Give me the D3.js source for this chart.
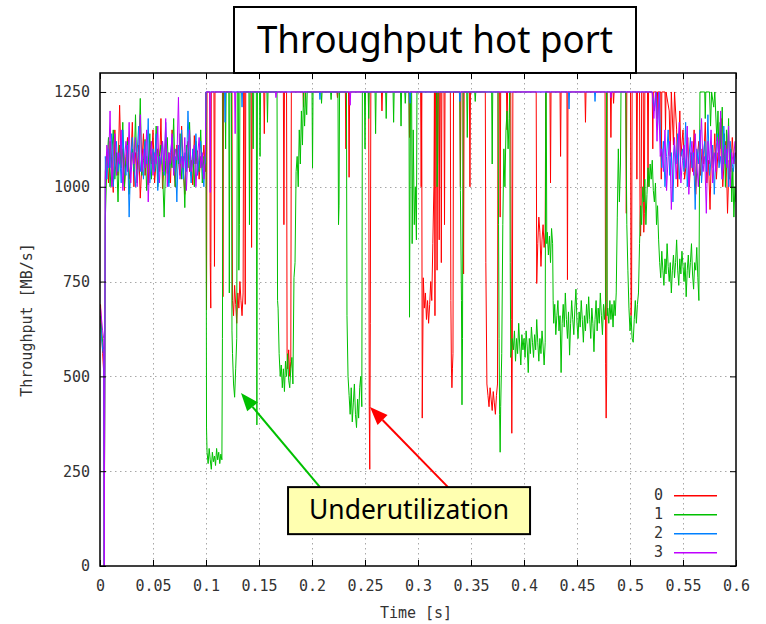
<!DOCTYPE html>
<html><head><meta charset="utf-8">
<script src="https://cdn.jsdelivr.net/npm/d3@7"></script>
<style>body{margin:0;background:#fff}svg{display:block}</style>
</head><body>
<svg id="chart" width="766" height="624"></svg>
<script>
// ---------- data ----------
const xTickValues = [0,0.05,0.1,0.15,0.2,0.25,0.3,0.35,0.4,0.45,0.5,0.55,0.6];
const xTickLabels = ["0","0.05","0.1","0.15","0.2","0.25","0.3","0.35","0.4","0.45","0.5","0.55","0.6"];
const yTickValues = [0,250,500,750,1000,1250];
const yTickLabels = ["0","250","500","750","1000","1250"];
const seriesNames = ["0","1","2","3"];
const seriesColors = ["#ff0000","#00c000","#0080ff","#c000ff"];
const titleText = "Throughput hot port";
const xLabel = "Time [s]";
const yLabel = "Throughput [MB/s]";
const noteText = "Underutilization";

// sampled segments: [start time, step, values]
function seq(t0, dt, vals){ return vals.map((v,i)=>[+(t0+i*dt).toFixed(5), v]); }

// start of run
const red0 = [[0.0005,690],[0.0015,620],[0.0025,560],[0.0035,510],[0.004,0]];
const green0 = [[0.0005,660],[0.0015,620],[0.0025,590],[0.0035,570],[0.004,0]];
const blue0 = [[0.0005,640],[0.0015,600],[0.0025,570],[0.0035,555],[0.004,0]];
const purple0 = [[0.0005,680],[0.0015,650],[0.0025,620],[0.0035,600],[0.004,0]];

// noisy phase A (t = 0.005 .. 0.0995, step 0.0015)
const redA = [1040,1090,1010,1120,1060,985,1150,1070,1030,1215,1050,1100,990,1080,1130,1020,1060,1170,1000,1090,1045,1110,970,1060,1140,1030,1080,1005,1120,1060,1150,1010,1070,1100,1040,1180,995,1060,1125,1035,1090,1010,1150,1060,1000,1110,1070,1030,1160,1050,980,1090,1120,1040,1070,1005,1135,1060,1095,1020,1080,1050,1110,1040];
const greenA = [912,1060,1130,1000,1080,1150,1020,1090,960,1110,1050,1170,1000,1070,1120,980,1060,1100,1040,1190,1010,1080,1233,1030,1070,1125,990,1060,1140,1020,1090,1050,1160,1000,1080,1110,1040,920,1070,1130,1010,1080,1050,1180,1000,1100,1060,1140,1020,1080,945,1110,1050,1170,1030,1090,1000,1120,1060,1040,1150,1010,1080,1060];
const blueA = [1080,1020,1100,1050,1140,1000,1070,1120,1040,1090,1010,1150,1060,1030,1110,920,1070,1130,1050,1000,1090,1160,1040,1080,1020,1120,1060,1180,1010,1070,1100,1040,1140,990,1080,1060,1120,1030,1170,1050,1000,1090,1130,1040,1080,960,1110,1060,1150,1020,1090,1040,1200,1070,1010,1100,1060,1140,1030,1080,1120,1050,1000,1090];
const purpleA = [1020,1110,1050,1200,1000,1080,1140,1030,1090,1060,1150,990,1070,1120,1040,1170,1010,1090,1060,1130,1000,1080,1190,1040,1100,1050,1150,960,1070,1120,1030,1090,1060,1160,1010,1080,1120,1040,1180,1000,1090,1060,1140,1030,1100,1070,1236,1020,1080,1050,1130,990,1090,1150,1040,1070,1110,1000,1080,1130,1050,1090,1020,1100];

// hot phase, series 0
const redM = [[0.1,1250],[0.1005,675],[0.101,1250],[0.1035,1250],[0.104,800],[0.1045,680],[0.105,1250],[0.1075,1250],[0.108,790],[0.1085,1250],
[0.1155,1250],[0.116,710],[0.1165,1250],[0.1245,1250],[0.125,700],[0.126,660],[0.127,740],[0.128,690],[0.129,640],[0.13,720],[0.131,680],[0.132,750],[0.133,700],[0.134,660],[0.135,720],[0.1355,1250],
[0.1365,1250],[0.137,690],[0.1375,1250],[0.1425,1250],[0.143,840],[0.1435,1250],[0.1545,1250],[0.155,1140],[0.1555,1250],[0.173,1250],[0.1735,900],[0.174,1250],
[0.176,1250],[0.1765,560],[0.177,520],[0.178,570],[0.179,500],[0.18,540],[0.1805,1250],[0.1915,1250],[0.192,1210],[0.1925,1250],[0.2235,1250],[0.224,1235],[0.2245,1250],
[0.2315,1250],[0.232,1100],[0.2325,1250],[0.2345,1250],[0.235,1025],[0.2355,1250],[0.2535,1250],[0.254,420],[0.2545,255],[0.255,640],[0.2555,1250],
[0.2655,1250],[0.266,1200],[0.2665,1250],[0.2915,1250],[0.292,1130],[0.2925,1250],[0.3025,1250],[0.303,1000],[0.3035,1250],[0.304,390],[0.305,760],[0.306,680],[0.307,720],[0.308,650],[0.309,700],[0.31,640],[0.311,690],[0.312,750],[0.313,700],[0.314,850],[0.315,1000],[0.3155,1250],[0.316,660],[0.3165,1250],
[0.3175,1250],[0.318,780],[0.3185,1250],[0.3195,1250],[0.32,860],[0.3205,1250],[0.3215,1250],[0.322,800],[0.3225,1250],[0.3245,1250],[0.325,900],[0.3255,1250],
[0.3305,1250],[0.331,700],[0.3315,530],[0.332,470],[0.3325,520],[0.333,560],[0.3335,1250],[0.3395,1250],[0.34,1000],[0.3405,1250],[0.3425,1250],[0.343,770],[0.3435,1250],[0.3485,1250],[0.349,1000],[0.3495,1250],
[0.3635,1250],[0.364,800],[0.365,480],[0.366,450],[0.367,420],[0.368,470],[0.369,440],[0.37,410],[0.371,460],[0.372,430],[0.373,400],[0.374,450],[0.375,480],[0.3755,1250],
[0.377,1250],[0.3775,920],[0.378,1250],[0.3835,1250],[0.384,1150],[0.3845,1250],[0.3875,1250],[0.388,650],[0.3885,350],[0.389,600],[0.3895,1250],
[0.4115,1250],[0.412,745],[0.413,850],[0.414,920],[0.415,880],[0.416,790],[0.417,860],[0.418,900],[0.419,840],[0.42,880],[0.4205,1250],
[0.4245,1250],[0.425,1010],[0.4255,1250],[0.434,1250],[0.4345,1080],[0.435,1250],[0.4405,1250],[0.441,755],[0.4415,1250],[0.4575,1250],[0.458,1170],[0.4585,1250],
[0.4765,1250],[0.477,535],[0.4775,390],[0.478,500],[0.4785,1250],[0.4815,1250],[0.482,1130],[0.4825,1250],[0.484,1250],[0.4845,1220],[0.485,1250],
[0.496,1250],[0.4965,930],[0.497,1250],[0.5005,1250],[0.501,660],[0.5015,700],[0.502,1250],[0.506,1250],[0.5065,1020],[0.507,1250],
[0.509,1250],[0.5095,900],[0.51,870],[0.5105,950],[0.511,1250],[0.5125,1250],[0.513,880],[0.5135,930],[0.514,1250],[0.5165,1250],[0.517,1000],[0.5175,1250],
[0.521,1250],[0.5215,1100],[0.522,1250],[0.525,1250],[0.5255,1180],[0.526,1250],[0.529,1250],[0.5295,1020],[0.53,1250],[0.533,1250],[0.5335,1150],[0.534,1250],
[0.537,1200],[0.538,1080],[0.539,1250],[0.541,1110],[0.542,1250],[0.544,1150],[0.545,1000],[0.547,1200],[0.548,1080],[0.55,1150],[0.5515,1020]];

// hot phase, series 1
const greenM1 = [[0.1,1250],[0.1005,364],[0.101,300],[0.102,270],[0.103,310],[0.104,280],[0.105,255],[0.106,300],[0.107,275],[0.108,290],[0.109,265],[0.11,310],[0.111,280],[0.112,300],[0.113,270],[0.114,295],[0.115,280],[0.1155,600],[0.116,1250],
[0.118,1250],[0.1185,1100],[0.119,1250],[0.1215,1250],[0.122,720],[0.1225,1250],[0.124,1250],[0.1245,620],[0.125,560],[0.126,480],[0.127,445],[0.128,520],[0.129,600],[0.1295,1250],
[0.1305,1250],[0.131,780],[0.1315,900],[0.132,1250],[0.1405,1250],[0.141,900],[0.1415,1250],[0.144,1250],[0.1445,1100],[0.145,1250],[0.1475,1250],[0.148,372],[0.1485,1250],
[0.1505,1250],[0.151,1080],[0.1515,1250],[0.1575,1250],[0.158,1170],[0.1585,1250],
[0.167,1250],[0.1675,700],[0.168,680],[0.169,560],[0.17,500],[0.171,530],[0.172,470],[0.173,520],[0.174,460],[0.175,540],[0.176,500],[0.177,560],[0.178,490],[0.179,470],[0.18,520],[0.181,550],[0.182,480],
[0.183,760],[0.184,800],[0.185,1040],[0.186,1080],[0.187,1000],[0.188,1150],[0.189,1060],[0.19,1200],[0.191,1110],[0.192,1250],[0.193,1160],[0.194,1250],[0.195,1190],[0.1955,1250],
[0.2,1250],[0.2005,1050],[0.201,1250],[0.2085,1250],[0.209,1220],[0.2095,1250],[0.2175,1250],[0.218,1230],[0.2185,1250],[0.2245,1250],[0.225,900],[0.2255,950],[0.226,1250],
[0.2325,1250],[0.233,660],[0.234,500],[0.235,450],[0.236,400],[0.237,470],[0.238,380],[0.239,430],[0.24,480],[0.241,400],[0.242,365],[0.243,440],[0.244,390],[0.245,470],[0.246,500],[0.247,420],[0.2475,1250],
[0.2495,1250],[0.25,1100],[0.2505,1250],[0.253,1250],[0.2535,1180],[0.254,1250],[0.2595,1250],[0.26,1140],[0.2605,1250],[0.2695,1250],[0.27,1180],[0.2705,1250],
[0.2765,1250],[0.277,1170],[0.2775,1250],[0.2835,1250],[0.284,1160],[0.2845,1250],[0.2875,1250],[0.288,1220],[0.2885,1250],
[0.2915,1250],[0.292,656],[0.2925,1000],[0.293,1250],[0.294,1250],[0.2945,850],[0.2955,1150],[0.2965,900],[0.2975,1000],[0.2985,860],[0.299,1250],
[0.3175,1250],[0.318,1000],[0.3185,1070],[0.319,1250],[0.3395,1250],[0.34,990],[0.341,700],[0.3415,425],[0.342,600],[0.3425,1250],
[0.346,1250],[0.3465,1130],[0.347,1250],[0.3535,1250],[0.354,1225],[0.3545,1250],[0.3695,1250],[0.37,1060],[0.3705,1250],
[0.3755,1250],[0.376,900],[0.3765,600],[0.377,400],[0.3775,300],[0.378,420],[0.379,560],[0.38,900],[0.381,1100],[0.382,1000],[0.383,1150],[0.384,1200],[0.385,1100],[0.386,1180],[0.3865,1250],[0.387,800],[0.3875,550],[0.389,600]];
const greenC1 = [570,620,540,600,560,640,580,530,610,570,600,550,620,580,510,600,560,630,590,550,610,570,650,590,540,600,560,620,580,530,590];
const greenM2 = [[0.4205,1250],[0.421,1250],[0.4215,850],[0.422,880],[0.423,820],[0.424,870],[0.425,800],[0.426,890],[0.427,850],[0.4275,700]];
const greenC2 = [640,690,610,660,700,620,660,510,640,690,630,720,650,600,670,556,640,700,650,610,680,730,640,600,670,630,700,650,590,660,620,690,640,710,650,600,680,640,565,650,700,620,680,640,720,660,610,690,650,700];
const greenM3 = [[0.478,1250],[0.4785,660]];
const greenC3 = [680,640,700,650,690,630,700,660,720];
const greenM4 = [[0.488,920],[0.489,1100],[0.49,960],[0.491,1060],[0.4915,1250],[0.496,1250],[0.497,900],[0.498,780],[0.499,680]];
const greenC4 = [620,660,600,590,650,700,640,690,720,850,950,900,1000,960,1020,900,980,1050,1000,1060,1020,1070,990,960,1010,900,950,860];
const greenC5 = [800,760,830,780,740,810,770,850,790,750,800,720,780,820,760,800,860,780,740,810,770,830,790,750,800,710,780,820,760,800,850,770,730,800,780,840,760,700];
const greenM5 = [[0.566,1250],[0.5705,1250],[0.571,1180],[0.5715,1250],[0.575,1250],[0.576,1160],[0.577,1250],[0.579,1210],[0.58,1250],[0.582,1120],[0.583,1200],[0.584,1080],[0.585,1170],[0.586,1100],[0.587,1210],[0.588,1060],[0.589,1140],[0.59,1000],[0.591,1150],[0.592,1090],[0.593,1180],[0.594,1020],[0.595,1100],[0.596,960],[0.597,1050],[0.598,920],[0.599,1000],[0.6,960]];

// hot phase, series 2 and 3 (saturated)
const blueM = [[0.1,1250],[0.1175,1250],[0.118,1170],[0.1185,1250],[0.1335,1250],[0.134,1210],[0.1345,1250],[0.207,1250],[0.2075,1230],[0.208,1250],[0.292,1250],[0.2925,1220],[0.293,1250],[0.339,1250],[0.3395,1225],[0.34,1250],[0.442,1250],[0.4425,1205],[0.443,1250],[0.4665,1250],[0.467,1225],[0.4675,1250],[0.521,1250],[0.523,1200],[0.5245,1250],[0.526,1150],[0.5275,1250],[0.529,1100]];
const purpleM = [[0.1,1250],[0.1035,1250],[0.104,985],[0.1045,1250],[0.127,1250],[0.1275,1140],[0.128,1250],[0.1655,1250],[0.166,1235],[0.1665,1250],[0.2355,1250],[0.236,1215],[0.2365,1250],[0.4815,1250],[0.482,1235],[0.4825,1250],[0.521,1250],[0.5225,1180],[0.524,1250],[0.5255,1120],[0.527,1250],[0.5285,1080]];

// noisy phase B
const redB = [1060,1130,1000,1090,1040,1150,980,1080,1120,1030,1100,1060,1170,1010,1070,940,1110,1050,1140,1020,1090,1060,1180,1000,1080,1120,930,1070,1040,1130,1060,1090];
const blueB = [1050,1120,1000,1080,1150,1030,1090,960,1110,1060,1140,1020,1080,1100,1040,1170,1000,1070,1130,1050,1090,940,1100,1060,1150,1010,1080,1120,1040,1190,1030,1070,1110,980,1090,1140,1050,1080,1020,1160,1060,1100,1000,1120,1070,1040,1090];
const purpleB = [1100,1040,1150,990,1080,1120,940,1060,1130,1020,1090,1170,1010,1070,1110,1050,1160,980,1080,1120,1030,1140,1060,1000,1100,1180,1040,1080,930,1120,1060,1150,1010,1090,1040,1130,1070,1200,1020,1080,1110,1050,1160,1000,1090,1060,1120];

const series0 = [...red0, ...seq(0.005,0.0015,redA), ...redM, ...seq(0.553,0.0015,redB)];
const series1 = [...green0, ...seq(0.005,0.0015,greenA), ...greenM1, ...seq(0.39,0.001,greenC1), ...greenM2,
  ...seq(0.428,0.001,greenC2), ...greenM3, ...seq(0.479,0.001,greenC3), ...greenM4, ...seq(0.5,0.001,greenC4),
  ...seq(0.528,0.001,greenC5), ...greenM5];
const series2 = [...blue0, ...seq(0.005,0.0015,blueA), ...blueM, ...seq(0.53,0.0015,blueB)];
const series3 = [...purple0, ...seq(0.005,0.0015,purpleA), ...purpleM, ...seq(0.53,0.0015,purpleB)];
const allSeries = [series0, series1, series2, series3];

// annotation (data coordinates)
const noteBox = {t0:0.1774, t1:0.4057, v0:84, v1:208};
const arrows = [
  {from:[0.2075,208], to:[0.1330,456], color:"#00c000"},
  {from:[0.3283,208], to:[0.2547,419], color:"#ff0000"}
];

// ---------- drawing ----------
const svg = d3.select("#chart");
const L=100, R=736, T=73, B=566;
const x = d3.scaleLinear().domain([0,0.6]).range([L,R]);
const y = d3.scaleLinear().domain([0,1300]).range([B,T]);
const mono = "'DejaVu Sans Mono', monospace";

svg.append("rect").attr("width",766).attr("height",624).attr("fill","#fff");

// grid
const grid = svg.append("g").attr("stroke","#a8a8a8").attr("stroke-width",1).attr("stroke-dasharray","1.5,3.5");
grid.selectAll(".gx").data(xTickValues.slice(1,-1)).join("line").attr("class","gx")
  .attr("x1",d=>Math.round(x(d))+0.5).attr("x2",d=>Math.round(x(d))+0.5).attr("y1",T).attr("y2",B);
grid.selectAll(".gy").data(yTickValues.slice(1)).join("line").attr("class","gy")
  .attr("y1",d=>Math.round(y(d))+0.5).attr("y2",d=>Math.round(y(d))+0.5).attr("x1",L).attr("x2",R);

// series
svg.append("clipPath").attr("id","plotclip").append("rect").attr("x",L).attr("y",T).attr("width",R-L).attr("height",B-T);
const line = d3.line().x(d=>x(d[0])).y(d=>y(d[1]));
svg.append("g").attr("clip-path","url(#plotclip)")
  .selectAll("path").data(allSeries).join("path")
  .attr("d",line).attr("fill","none")
  .attr("stroke",(d,i)=>seriesColors[i]).attr("stroke-width",1).attr("stroke-linejoin","miter");

// axes
function styleAxis(g){
  g.select(".domain").remove();
  g.selectAll(".tick line").attr("stroke","#000").attr("stroke-width",1);
  g.selectAll("text").attr("font-family",mono).attr("font-size","15px").attr("fill","#333");
}
svg.append("g").attr("transform",`translate(0,${B})`)
  .call(d3.axisBottom(x).tickValues(xTickValues).tickFormat((d,i)=>xTickLabels[i]).tickSize(-6).tickPadding(14))
  .call(styleAxis);
svg.append("g").attr("transform",`translate(0,${T})`)
  .call(d3.axisTop(x).tickValues(xTickValues).tickFormat("").tickSize(-6)).call(styleAxis);
svg.append("g").attr("transform",`translate(${L},0)`)
  .call(d3.axisLeft(y).tickValues(yTickValues).tickFormat((d,i)=>yTickLabels[i]).tickSize(-6).tickPadding(10))
  .call(styleAxis);
svg.append("g").attr("transform",`translate(${R},0)`)
  .call(d3.axisRight(y).tickValues(yTickValues).tickFormat("").tickSize(-6)).call(styleAxis);

svg.append("rect").attr("x",L).attr("y",T).attr("width",R-L).attr("height",B-T)
  .attr("fill","none").attr("stroke","#000").attr("stroke-width",1.5);

// axis labels
svg.append("text").attr("x",416).attr("y",618).attr("text-anchor","middle")
  .attr("font-family",mono).attr("font-size","15px").attr("fill","#333").text(xLabel);
svg.append("text").attr("transform","translate(32,320) rotate(-90)").attr("text-anchor","middle")
  .attr("font-family",mono).attr("font-size","15px").attr("fill","#333").text(yLabel);

// legend
const lg = svg.append("g");
lg.selectAll("text").data(seriesNames).join("text")
  .attr("x",663).attr("y",(d,i)=>500+i*19).attr("text-anchor","end")
  .attr("font-family",mono).attr("font-size","15px").attr("fill","#333").text(d=>d);
lg.selectAll("rect").data(seriesNames).join("rect")
  .attr("x",674).attr("width",43).attr("y",(d,i)=>495+i*19).attr("height",1.5)
  .attr("fill",(d,i)=>seriesColors[i]).attr("stroke","none");

// title box
svg.append("rect").attr("x",234).attr("y",7).attr("width",402).attr("height",66)
  .attr("fill","#fff").attr("stroke","#000").attr("stroke-width",2);
svg.append("text").attr("x",435).attr("y",53).attr("text-anchor","middle")
  .attr("font-family","'Noto Sans', sans-serif").attr("font-size","38px").attr("fill","#000")
  .attr("textLength",356).attr("lengthAdjust","spacingAndGlyphs").text(titleText);

// annotation arrows
arrows.forEach(a=>{
  const x1=x(a.from[0]), y1=y(a.from[1]), x2=x(a.to[0]), y2=y(a.to[1]);
  const ang=Math.atan2(y2-y1,x2-x1), len=18, wid=7;
  const bx=x2-len*Math.cos(ang), by=y2-len*Math.sin(ang);
  svg.append("line").attr("x1",x1).attr("y1",y1).attr("x2",bx).attr("y2",by)
    .attr("stroke",a.color).attr("stroke-width",2);
  const pts=[[x2,y2],[bx+wid*Math.sin(ang),by-wid*Math.cos(ang)],[bx-wid*Math.sin(ang),by+wid*Math.cos(ang)]];
  svg.append("polygon").attr("points",pts.map(p=>p.join(",")).join(" ")).attr("fill",a.color);
});

// annotation box
svg.append("rect").attr("x",x(noteBox.t0)).attr("y",y(noteBox.v1))
  .attr("width",x(noteBox.t1)-x(noteBox.t0)).attr("height",y(noteBox.v0)-y(noteBox.v1))
  .attr("fill","#ffffb0").attr("stroke","#000").attr("stroke-width",2);
svg.append("text").attr("x",(x(noteBox.t0)+x(noteBox.t1))/2).attr("y",519).attr("text-anchor","middle")
  .attr("font-family","'Noto Sans', sans-serif").attr("font-size","27px").attr("fill","#000")
  .attr("textLength",200).attr("lengthAdjust","spacingAndGlyphs").text(noteText);
</script>
</body></html>
